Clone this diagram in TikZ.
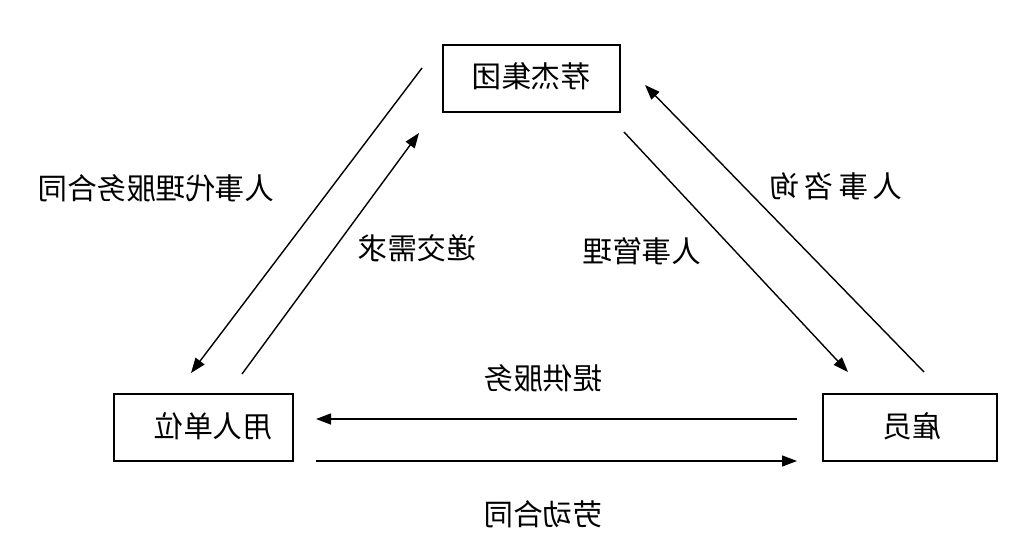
\documentclass[tikz,border=0pt]{standalone}
\usepackage{graphicx}
\usepackage{fontspec}
\newfontfamily\cjk{Noto Sans CJK SC}
\usetikzlibrary{arrows.meta}
\tikzset{
  box/.style={draw, line width=1.5pt, inner sep=0pt},
  lbl/.style={font=\cjk\fontsize{29.5}{30}\selectfont, inner sep=0pt},
  arr/.style={line width=1.4pt, -{Triangle[length=15pt,width=11pt]}}
}
\newcommand{\mir}[1]{\reflectbox{#1}}
\begin{document}
\begin{tikzpicture}[x=1pt,y=-1pt]
\useasboundingbox[fill=white] (0,0) rectangle (1024,555);
% boxes
\node[box, minimum width=177pt, minimum height=67pt] (top) at (531.5,78.5) {};
\node[box, minimum width=179pt, minimum height=67pt] (left) at (203.5,427.5) {};
\node[box, minimum width=174pt, minimum height=67pt] (right) at (910,427.5) {};
\node[lbl] (topt) at (531,76) {\mir{荐杰集团}};
\node[lbl] (leftt) at (213,426) {\mir{用人单位}};
\node[lbl] (rightt) at (912,426) {\mir{雇员}};
% arrow ends
\coordinate (a1s) at (422,68);  \coordinate (a1e) at (191,373);
\coordinate (a2s) at (242,374); \coordinate (a2e) at (419,133);
\coordinate (a3s) at (624,132); \coordinate (a3e) at (848,372);
\coordinate (a4s) at (924,372); \coordinate (a4e) at (645,85);
\coordinate (a5s) at (797,419); \coordinate (a5e) at (316,419);
\coordinate (a6s) at (316,461); \coordinate (a6e) at (797,461);
\draw[arr] (a1s) -- (a1e);
\draw[arr] (a2s) -- (a2e);
\draw[arr] (a3s) -- (a3e);
\draw[arr] (a4s) -- (a4e);
\draw[arr] (a5s) -- (a5e);
\draw[arr] (a6s) -- (a6e);
% labels
\node[lbl] (l1) at (156,188) {\mir{人事代理服务合同}};
\node[lbl] (l2) at (417,248) {\mir{递交需求}};
\node[lbl] (l3) at (642,251) {\mir{人事管理}};
\node[lbl] (l4) at (836,186) {\mir{人\hspace{5pt}事\hspace{5pt}咨\hspace{5pt}询}};
\node[lbl] (l5) at (543,378) {\mir{提供服务}};
\node[lbl] (l6) at (543,514) {\mir{劳动合同}};
\end{tikzpicture}
\end{document}
